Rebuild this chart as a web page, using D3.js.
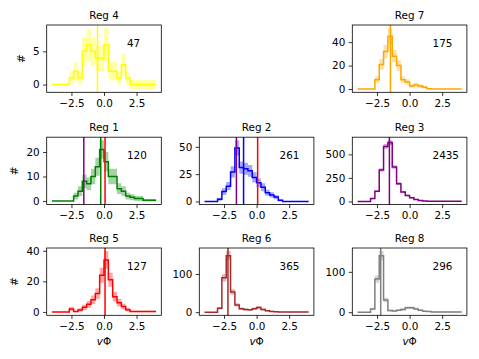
<!DOCTYPE html>
<html>
<head>
<meta charset="utf-8">
<script src="https://cdn.jsdelivr.net/npm/d3@7"></script>
<style>
  body { margin: 0; background: #fff; }
  text { font-family: "DejaVu Sans", sans-serif; font-size: 10.4px; fill: #000; }
</style>
</head>
<body>
<div id="chart"></div>
<script>
//////////// *** DATA *** ////////////

var binEdges = [-4, -3.667, -3.333, -3, -2.667, -2.333, -2, -1.667, -1.333, -1, -0.667, -0.333,
                0, 0.333, 0.667, 1, 1.333, 1.667, 2, 2.333, 2.667, 3, 3.333, 3.667, 4];

var regNames  = ["Reg 4", "Reg 7", "Reg 1", "Reg 2", "Reg 3", "Reg 5", "Reg 6", "Reg 8"];
var regTotals = [47, 175, 120, 261, 2435, 127, 365, 296];
var regMedian = [-0.5, -1.47, -0.25, -1.0, -1.55, 0.08, -2.2, -2.22];

var reg4Counts = [0,0,0,0,1,2,1,5,6,5,4,4,6,2,2,1,3,1,0,0,0,0,0,0];
var reg4Errors = [0,0,0,0,1,1.4,1,2.2,2.4,2.2,2,2,2.5,1.4,1.4,1,1.7,1,0.7,0.7,0.7,0.7,0.7,0.7];

var reg7Counts = [0,0,0,0,8,21,32,45,28,20,8,6,2.5,3.5,2.5,1.5,0.3,0,0,0,0,0,0,0];
var reg7Errors = [0,0,0,0,2.8,4.6,5.7,7,5.3,4.5,2.8,2.4,1.6,1.9,1.6,1.2,0.5,0,0,0,0,0,0,0];

var reg1Counts = [0,0,0,0,0,2,4,8,7,10,14,21,16,10,10,5,4,2,1.5,1,1,0.3,0.3,0.3];
var reg1Errors = [0,0,0,0,0,1.4,2,2.8,2.6,3.2,3.7,3.8,4,3.2,3.2,2.2,2,1.4,1.2,1,1,0.5,0.5,0.5];

var reg2Counts = [0,0,0,2,9,14,27,49,31,30,28,22,17,13,8,6,4,1,0,0,0,0,0,0];
var reg2Errors = [0,0,0,1.4,3,3.7,5.2,7,5.6,5.5,5.3,4.7,4.1,3.6,2.8,2.4,2,1,0,0,0,0,0,0];

var reg3Counts = [0,0,0,30,107,335,585,625,365,189,100,64,39,21,11,5,3,1,1,1,1,1,1,1];
var reg3Errors = [0,0,0,5.5,10,18,24,25,19,14,10,8,6,4.6,3.3,2.2,1.7,1,1,1,1,1,1,1];

var reg5Counts = [0,0,0,0,2,0.3,1.3,3,5,8,12,24,34,21,10,6,3.5,1.5,0.3,0.3,0.3,0.3,0.3,0.3];
var reg5Errors = [0,0,0,0,1.4,0.5,1.1,1.7,2.2,2.8,3.5,4.9,5.8,4.6,3.2,2.4,1.9,1.2,0.5,0.5,0.5,0.5,0.5,0.5];

var reg6Counts = [0,0,0,10,90,148,53,19,9,7,6,9,12,7,4,2,1,0.5,0.5,0.5,0.5,0.5,0.5,0.5];
var reg6Errors = [0,0,0,3.2,9.5,12,7.3,4.4,3,2.6,2.4,3,3.5,2.6,2,1.4,1,0.7,0.7,0.7,0.7,0.7,0.7,0.7];

var reg8Counts = [0,0,0,8,82,140,30,4,3,5,7,11,11,8,5,2.5,1.5,0.8,0.8,0.8,0.8,0.8,0.8,0.8];
var reg8Errors = [0,0,0,2.8,9,11.5,5.5,2,1.7,2.2,2.6,3.3,3.3,2.8,2.2,1.6,1.2,0.9,0.9,0.9,0.9,0.9,0.9,0.9];

var regCounts = [reg4Counts, reg7Counts, reg1Counts, reg2Counts, reg3Counts, reg5Counts, reg6Counts, reg8Counts];
var regErrors = [reg4Errors, reg7Errors, reg1Errors, reg2Errors, reg3Errors, reg5Errors, reg6Errors, reg8Errors];

// which region medians are marked in each panel
var regMarks = [["Reg 4"], ["Reg 7"], ["Reg 3", "Reg 1", "Reg 5"], ["Reg 3", "Reg 2", "Reg 5"],
                ["Reg 3"], ["Reg 5"], ["Reg 6"], ["Reg 8"]];

var xTicks = [-2.5, 0, 2.5];
var yTicks = [[0, 5], [0, 20, 40], [0, 10, 20], [0, 25, 50], [0, 250, 500], [0, 20, 40], [0, 100], [0, 100]];

//////////// *** LAYOUT / STYLE *** ////////////

var W = 479, H = 359;
var colX = [46.7, 199.3, 352.3], rowY = [25, 137.2, 248];
var pw = 114.6, ph = 67.3;
var layout = {"Reg 4": [0, 0], "Reg 7": [0, 2], "Reg 1": [1, 0], "Reg 2": [1, 1],
              "Reg 3": [1, 2], "Reg 5": [2, 0], "Reg 6": [2, 1], "Reg 8": [2, 2]};
var palette = {"Reg 4": "yellow", "Reg 7": "orange", "Reg 1": "green", "Reg 2": "blue",
               "Reg 3": "purple", "Reg 5": "red", "Reg 6": "brown", "Reg 8": "gray"};

var svg = d3.select("#chart").append("svg")
  .attr("width", W)
  .attr("height", H);

svg.append("rect").attr("width", W).attr("height", H).attr("fill", "#fff");

var xExt = d3.extent(binEdges), xPad = (xExt[1] - xExt[0]) * 0.05;

regNames.forEach(function(name, i) {
  var pos = layout[name];
  var left = colX[pos[1]], top = rowY[pos[0]];
  var counts = regCounts[i], errs = regErrors[i];
  var col = palette[name];

  var pts = counts.map(function(c, j) { return {x: binEdges[j], y: c, e: errs[j]}; });
  pts.push({x: binEdges[binEdges.length - 1], y: counts[counts.length - 1], e: errs[errs.length - 1]});

  var lo = d3.min(pts, function(d) { return d.y - d.e; }),
      hi = d3.max(pts, function(d) { return d.y + d.e; }),
      yPad = (hi - lo) * 0.05;

  var x = d3.scaleLinear().domain([xExt[0] - xPad, xExt[1] + xPad]).range([left, left + pw]);
  var y = d3.scaleLinear().domain([lo - yPad, hi + yPad]).range([top + ph, top]);

  var g = svg.append("g");

  var band = d3.area()
    .curve(d3.curveStepAfter)
    .x(function(d) { return x(d.x); })
    .y0(function(d) { return y(d.y - d.e); })
    .y1(function(d) { return y(d.y + d.e); });

  var line = d3.line()
    .curve(d3.curveStepAfter)
    .x(function(d) { return x(d.x); })
    .y(function(d) { return y(d.y); });

  g.append("path").attr("d", band(pts))
    .attr("fill", col).attr("fill-opacity", 0.35).attr("stroke", "none");

  g.append("path").attr("d", line(pts))
    .attr("fill", "none").attr("stroke", col).attr("stroke-width", 1.5);

  regMarks[i].forEach(function(m) {
    var k = regNames.indexOf(m);
    g.append("line")
      .attr("x1", x(regMedian[k])).attr("x2", x(regMedian[k]))
      .attr("y1", top).attr("y2", top + ph)
      .attr("stroke", palette[m]).attr("stroke-width", 1.5);
  });

  // axes
  var xa = g.append("g").attr("transform", "translate(0," + (top + ph) + ")")
    .call(d3.axisBottom(x).tickValues(xTicks).tickSize(3.6).tickPadding(3.4).tickFormat(d3.format(".1f")));
  var ya = g.append("g").attr("transform", "translate(" + left + ",0)")
    .call(d3.axisLeft(y).tickValues(yTicks[i]).tickSize(3.6).tickPadding(3.4).tickFormat(d3.format("d")));
  [xa, ya].forEach(function(a) {
    a.select(".domain").remove();
    a.selectAll(".tick line").attr("stroke", "#000").attr("stroke-width", 0.8);
    a.selectAll("text").attr("font-family", "DejaVu Sans").attr("font-size", 10.4).attr("fill", "#000");
  });

  g.append("rect")
    .attr("x", left).attr("y", top).attr("width", pw).attr("height", ph)
    .attr("fill", "none").attr("stroke", "#000").attr("stroke-width", 0.8);

  g.append("text")
    .attr("x", left + pw / 2).attr("y", top - 6)
    .attr("text-anchor", "middle")
    .text(name);

  g.append("text")
    .attr("x", left + pw * 0.7).attr("y", top + ph * 0.265 + 3.8)
    .text(regTotals[i]);

  if (pos[1] === 0) {
    // tick label boxes are relative to the axis group, which sits at x = left
    var minX = d3.min(ya.selectAll("text").nodes(), function(n) { return n.getBBox().x; });
    g.append("text")
      .attr("transform", "translate(" + (left + minX - 8) + "," + (top + ph / 2) + ") rotate(-90)")
      .attr("text-anchor", "middle")
      .text("#");
  }

  if (pos[0] === 2) {
    var xl = g.append("text")
      .attr("x", left + pw / 2).attr("y", top + ph + 30)
      .attr("text-anchor", "middle");
    xl.append("tspan").attr("font-style", "italic").text("v");
    xl.append("tspan").text("Φ");
  }
});
</script>
</body>
</html>
